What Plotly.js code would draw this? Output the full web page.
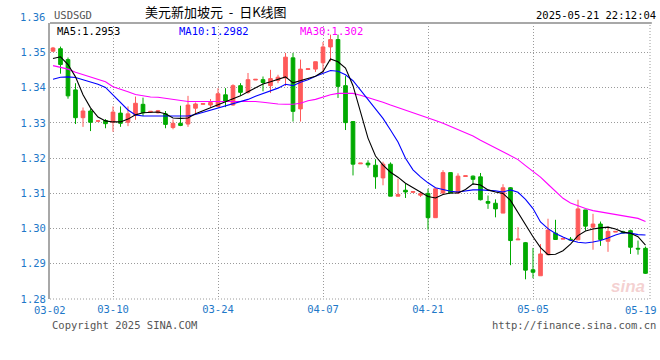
<!DOCTYPE html>
<html><head><meta charset="utf-8">
<script src="https://cdn.plot.ly/plotly-3.0.1.min.js"></script>
<style>html,body{margin:0;padding:0;background:#fff}#chart{width:660px;height:360px}</style>
</head><body><div id="chart"></div>
<script>
const dates = [
'2025-03-02','2025-03-03','2025-03-04','2025-03-05','2025-03-06','2025-03-07','2025-03-08','2025-03-09','2025-03-10','2025-03-11',
'2025-03-12','2025-03-13','2025-03-14','2025-03-15','2025-03-16','2025-03-17','2025-03-18','2025-03-19','2025-03-20','2025-03-21',
'2025-03-22','2025-03-23','2025-03-24','2025-03-25','2025-03-26','2025-03-27','2025-03-28','2025-03-29','2025-03-30','2025-03-31',
'2025-04-01','2025-04-02','2025-04-03','2025-04-04','2025-04-05','2025-04-06','2025-04-07','2025-04-08','2025-04-09','2025-04-10',
'2025-04-11','2025-04-12','2025-04-13','2025-04-14','2025-04-15','2025-04-16','2025-04-17','2025-04-18','2025-04-19','2025-04-20',
'2025-04-21','2025-04-22','2025-04-23','2025-04-24','2025-04-25','2025-04-26','2025-04-27','2025-04-28','2025-04-29','2025-04-30',
'2025-05-01','2025-05-02','2025-05-03','2025-05-04','2025-05-05','2025-05-06','2025-05-07','2025-05-08','2025-05-09','2025-05-10',
'2025-05-11','2025-05-12','2025-05-13','2025-05-14','2025-05-15','2025-05-16','2025-05-17','2025-05-18','2025-05-19','2025-05-20'];

const openP = [
1.3504,1.3511,1.3480,1.3394,1.3315,1.3334,1.3305,1.3307,1.3302,1.3328,
1.3302,1.3323,1.3353,1.3331,1.3329,1.3326,1.3287,1.3299,1.3297,1.3342,
1.3353,1.3351,1.3347,1.3380,1.3351,1.3406,1.3387,1.3422,1.3423,1.3406,
1.3421,1.3428,1.3485,1.3340,1.3452,1.3453,1.3471,1.3516,1.3537,1.3406,
1.3304,1.3184,1.3186,1.3180,1.3144,1.3183,1.3092,1.3109,1.3103,1.3095,
1.3100,1.3031,1.3101,1.3159,1.3101,1.3148,1.3149,1.3147,1.3077,1.3072,
1.3044,1.3116,1.2968,1.2960,1.2883,1.2866,1.2926,1.2987,1.2970,1.2970,
1.2968,1.3053,1.3004,1.3013,1.2964,1.2990,1.2991,1.2994,1.2944,1.2944];
const highP = [
1.3516,1.3517,1.3486,1.3413,1.3344,1.3340,1.3307,1.3311,1.3347,1.3347,
1.3347,1.3375,1.3372,1.3333,1.3337,1.3334,1.3310,1.3349,1.3377,1.3358,
1.3355,1.3368,1.3399,1.3399,1.3410,1.3413,1.3442,1.3424,1.3432,1.3451,
1.3437,1.3499,1.3499,1.3480,1.3454,1.3474,1.3530,1.3551,1.3551,1.3433,
1.3304,1.3186,1.3194,1.3197,1.3190,1.3188,1.3142,1.3128,1.3105,1.3105,
1.3113,1.3113,1.3166,1.3160,1.3157,1.3150,1.3151,1.3158,1.3094,1.3083,
1.3126,1.3118,1.3004,1.2962,1.2945,1.2956,1.3028,1.3025,1.2972,1.2976,
1.3082,1.3053,1.3042,1.3020,1.3006,1.2992,1.2994,1.2997,1.2966,1.2949];
const lowP = [
1.3502,1.3440,1.3369,1.3297,1.3289,1.3277,1.3305,1.3285,1.3275,1.3289,
1.3291,1.3309,1.3320,1.3331,1.3327,1.3285,1.3282,1.3291,1.3289,1.3326,
1.3353,1.3345,1.3345,1.3345,1.3349,1.3377,1.3383,1.3422,1.3390,1.3385,
1.3413,1.3405,1.3304,1.3304,1.3452,1.3445,1.3442,1.3475,1.3371,1.3280,
1.3151,1.3184,1.3173,1.3113,1.3123,1.3092,1.3092,1.3087,1.3103,1.3090,
1.2997,1.3031,1.3099,1.3101,1.3101,1.3148,1.3125,1.3080,1.3056,1.3032,
1.3044,1.2896,1.2968,1.2856,1.2859,1.2866,1.2926,1.2969,1.2970,1.2965,
1.2968,1.2994,1.2940,1.2951,1.2934,1.2990,1.2986,1.2928,1.2926,1.2871];
const closeP = [
1.3513,1.3466,1.3377,1.3315,1.3334,1.3302,1.3306,1.3298,1.3331,1.3299,
1.3326,1.3356,1.3329,1.3333,1.3335,1.3296,1.3299,1.3293,1.3351,1.3354,
1.3355,1.3358,1.3383,1.3361,1.3406,1.3387,1.3423,1.3424,1.3415,1.3426,
1.3430,1.3487,1.3333,1.3453,1.3454,1.3474,1.3516,1.3537,1.3404,1.3301,
1.3183,1.3186,1.3181,1.3147,1.3183,1.3092,1.3097,1.3104,1.3105,1.3099,
1.3031,1.3113,1.3159,1.3101,1.3149,1.3150,1.3140,1.3082,1.3072,1.3056,
1.3116,1.2966,1.2970,1.2882,1.2876,1.2928,1.2996,1.2969,1.2972,1.2968,
1.3056,1.3007,1.3013,1.2969,1.2992,1.2992,1.2988,1.2947,1.2942,1.2873];

const ma5 = [
1.3483,1.3488,1.3466,1.3431,1.3380,1.3343,1.3317,1.3306,1.3303,1.3303,
1.3311,1.3323,1.3329,1.3330,1.3331,1.3326,1.3314,1.3313,1.3314,1.3326,
1.3334,1.3343,1.3351,1.3360,1.3369,1.3377,1.3389,1.3400,1.3411,1.3417,
1.3424,1.3431,1.3414,1.3421,1.3426,1.3433,1.3446,1.3482,1.3474,1.3456,
1.3406,1.3329,1.3257,1.3206,1.3180,1.3160,1.3146,1.3129,1.3116,1.3104,
1.3091,1.3087,1.3097,1.3101,1.3101,1.3111,1.3127,1.3124,1.3110,1.3104,
1.3100,1.3080,1.3046,1.3009,1.2977,1.2946,1.2926,1.2927,1.2937,1.2956,
1.2980,1.2993,1.2999,1.3002,1.3004,1.2999,1.2990,1.2987,1.2977,1.2953];
const ma10 = [
1.3424,1.3430,1.3431,1.3429,1.3423,1.3417,1.3410,1.3401,1.3380,1.3359,
1.3337,1.3323,1.3320,1.3320,1.3320,1.3320,1.3320,1.3319,1.3320,1.3324,
1.3330,1.3337,1.3344,1.3349,1.3354,1.3361,1.3367,1.3376,1.3383,1.3390,
1.3399,1.3410,1.3406,1.3416,1.3423,1.3433,1.3441,1.3449,1.3447,1.3437,
1.3420,1.3393,1.3367,1.3340,1.3313,1.3280,1.3246,1.3200,1.3167,1.3147,
1.3130,1.3116,1.3110,1.3106,1.3104,1.3107,1.3110,1.3110,1.3109,1.3107,
1.3104,1.3110,1.3103,1.3083,1.3057,1.3019,1.3000,1.2986,1.2976,1.2967,
1.2961,1.2959,1.2962,1.2966,1.2973,1.2982,1.2988,1.2987,1.2983,1.2982];
const ma30 = [
1.3463,1.3458,1.3453,1.3444,1.3437,1.3430,1.3423,1.3417,1.3403,1.3397,
1.3389,1.3381,1.3377,1.3374,1.3373,1.3370,1.3367,1.3364,1.3361,1.3361,
1.3361,1.3361,1.3361,1.3361,1.3362,1.3362,1.3361,1.3361,1.3359,1.3356,
1.3354,1.3353,1.3353,1.3356,1.3363,1.3367,1.3374,1.3380,1.3384,1.3385,
1.3384,1.3379,1.3373,1.3366,1.3359,1.3351,1.3344,1.3337,1.3330,1.3323,
1.3316,1.3307,1.3299,1.3290,1.3281,1.3273,1.3263,1.3251,1.3240,1.3229,
1.3219,1.3209,1.3196,1.3179,1.3163,1.3146,1.3126,1.3106,1.3086,1.3073,
1.3064,1.3057,1.3051,1.3047,1.3044,1.3040,1.3036,1.3032,1.3029,1.3020];

const tickDates = ['2025-03-10','2025-03-24','2025-04-07','2025-04-21','2025-05-05'];
const tickLabels = ['03-10','03-24','04-07','04-21','05-05'];
const firstLabel = '03-02';
const lastLabel = '05-19';
const yTicks = [1.28,1.29,1.30,1.31,1.32,1.33,1.34,1.35];
const topLabel = '1.36';
const legendTexts = ['MA5:1.2953','MA10:1.2982','MA30:1.302'];
const symbolText = 'USDSGD';
const titleText = '美元新加坡元&nbsp;&nbsp;-&nbsp;&nbsp;日K线图';
const stampText = '2025-05-21 22:12:04';
const copyText = 'Copyright 2025 SINA.COM';
const urlText = 'http://finance.sina.com.cn';

const RED = '#ff5a5a', GREEN = '#00aa00', BLUE_T = '#1e78c8';
const MONO = 'DejaVu Sans Mono, Liberation Mono, monospace';

const traces = [
  {type:'candlestick', x:dates, open:openP, high:highP, low:lowP, close:closeP,
   increasing:{line:{color:RED,width:1}, fillcolor:RED},
   decreasing:{line:{color:GREEN,width:1}, fillcolor:GREEN},
   whiskerwidth:0, showlegend:false, hoverinfo:'skip'},
  {type:'scatter', mode:'lines', x:dates, y:ma30, line:{color:'#ff00ff',width:1.1}, showlegend:false, hoverinfo:'skip'},
  {type:'scatter', mode:'lines', x:dates, y:ma10, line:{color:'#0000ff',width:1.1}, showlegend:false, hoverinfo:'skip'},
  {type:'scatter', mode:'lines', x:dates, y:ma5, line:{color:'#000000',width:1.1}, showlegend:false, hoverinfo:'skip'}
];

const layout = {
  width:660, height:360,
  margin:{l:50, r:10, t:23, b:61},
  paper_bgcolor:'#fff', plot_bgcolor:'#fff',
  showlegend:false,
  xaxis:{type:'category', range:[-0.4,79.6], rangeslider:{visible:false},
    tickmode:'array', tickvals:tickDates, ticktext:tickLabels,
    showgrid:true, gridcolor:'#9a9a9a', gridwidth:1, griddash:'1px,2px',
    showline:false, zeroline:false, ticks:'', ticklabelstandoff:2,
    tickfont:{family:MONO, size:10.5, color:BLUE_T}, fixedrange:true},
  yaxis:{range:[1.28,1.3584], tickmode:'array', tickvals:yTicks, tickformat:'.2f',
    showgrid:true, gridcolor:'#9a9a9a', gridwidth:1, griddash:'1px,2px',
    showline:true, linecolor:'#a8a8a8', linewidth:2, zeroline:false, ticks:'',
    tickfont:{family:MONO, size:10.5, color:BLUE_T}, fixedrange:true},
  shapes:[
    {type:'line', xref:'paper', yref:'paper', x0:0, x1:1.003, y0:1, y1:1, line:{color:'#a8a8a8', width:2}},
    {type:'line', xref:'paper', yref:'paper', x0:1, x1:1, y0:0, y1:1, line:{color:'#9a9a9a', width:1, dash:'1px,2px'}},
    {type:'line', xref:'paper', yref:'paper', x0:0, x1:1, y0:0, y1:0, line:{color:'#9a9a9a', width:1, dash:'1px,2px'}}
  ],
  annotations:[
    {text:topLabel, xref:'paper', yref:'paper', x:-0.005, y:1.022, xanchor:'right', yanchor:'middle', showarrow:false, font:{family:MONO, size:10.5, color:BLUE_T}},
    {text:firstLabel, xref:'paper', yref:'paper', x:0, y:-0.012, xanchor:'center', yanchor:'top', showarrow:false, font:{family:MONO, size:10.5, color:BLUE_T}},
    {text:lastLabel, xref:'paper', yref:'paper', x:1.015, y:-0.012, xanchor:'right', yanchor:'top', showarrow:false, font:{family:MONO, size:10.5, color:BLUE_T}},
    {text:legendTexts[0], xref:'paper', yref:'paper', x:0.008, y:0.971, xanchor:'left', yanchor:'middle', showarrow:false, font:{family:MONO, size:10.5, color:'#000'}},
    {text:legendTexts[1], xref:'paper', yref:'paper', x:0.212, y:0.971, xanchor:'left', yanchor:'middle', showarrow:false, font:{family:MONO, size:10.5, color:'#0000ff'}},
    {text:legendTexts[2], xref:'paper', yref:'paper', x:0.413, y:0.971, xanchor:'left', yanchor:'middle', showarrow:false, font:{family:MONO, size:10.5, color:'#ff00ff'}},
    {text:symbolText, xref:'paper', yref:'paper', x:0.003, y:1.028, xanchor:'left', yanchor:'middle', showarrow:false, font:{family:MONO, size:10.5, color:'#555'}},
    {text:titleText, xref:'paper', yref:'paper', x:0.155, y:1.04, xanchor:'left', yanchor:'middle', showarrow:false, font:{family:'Noto Sans CJK SC, sans-serif', size:13, color:'#000'}},
    {text:stampText, xref:'paper', yref:'paper', x:1.013, y:1.03, xanchor:'right', yanchor:'middle', showarrow:false, font:{family:MONO, size:10.5, color:'#000'}},
    {text:copyText, xref:'paper', yref:'paper', x:0.0, y:-0.066, xanchor:'left', yanchor:'top', showarrow:false, font:{family:MONO, size:10.5, color:'#555'}},
    {text:urlText, xref:'paper', yref:'paper', x:1.013, y:-0.066, xanchor:'right', yanchor:'top', showarrow:false, font:{family:MONO, size:10.5, color:'#555'}},
    {text:'<b><i>sina</i></b>', xref:'paper', yref:'paper', x:0.995, y:0.005, xanchor:'right', yanchor:'bottom', showarrow:false, font:{family:'Liberation Sans, sans-serif', size:17, color:'rgba(235,170,170,0.55)'}}
  ]
};

Plotly.newPlot('chart', traces, layout, {staticPlot:true, displayModeBar:false});
</script>
</body></html>
